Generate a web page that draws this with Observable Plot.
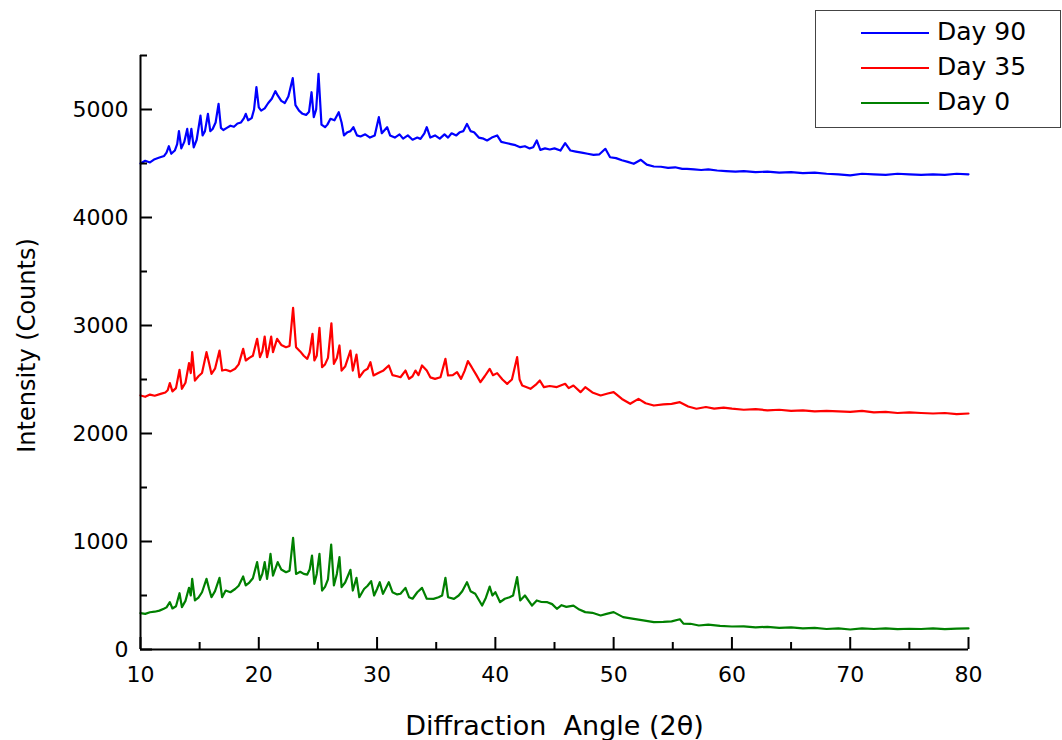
<!DOCTYPE html>
<html>
<head>
<meta charset="utf-8">
<script src="https://cdn.jsdelivr.net/npm/d3@7"></script>
<script src="https://cdn.jsdelivr.net/npm/@observablehq/plot@0.6"></script>
<style>
  body { margin: 0; background: #fff; }
  #wrap { position: relative; width: 1062px; height: 740px; background: #fff; }
  svg text { white-space: pre; }
  #legend { position: absolute; left: 815px; top: 10px; width: 246px; height: 118px;
    border: 1px solid #444; box-sizing: border-box; background: #fff;
    font-family: "DejaVu Sans", sans-serif; }
  .row { position: absolute; left: 0; height: 0; }
  .sw { position: absolute; left: 45px; top: -1px; width: 68px; height: 2px; }
  .lb { position: absolute; left: 121px; top: -16px; font-size: 25px; line-height: 30px; color: #000; white-space: nowrap; }
</style>
</head>
<body>
<div id="wrap"></div>
<script>
// ---- Data ----
const seriesNames = ["Day 90", "Day 35", "Day 0"];
const seriesColors = ["#0000ff", "#ff0000", "#008000"];

const day90X = [10.0,10.4,10.8,11.2,11.6,12.0,12.2,12.4,12.6,12.9,13.1,13.25,13.45,13.7,13.95,14.1,14.3,14.5,14.75,15.07,15.25,15.45,15.7,15.9,16.1,16.35,16.6,16.8,17.0,17.3,17.6,17.9,18.2,18.5,18.75,18.9,19.1,19.4,19.6,19.8,20.0,20.2,20.5,20.8,21.1,21.4,21.6,21.9,22.2,22.5,22.87,23.1,23.4,23.7,24.0,24.25,24.46,24.65,24.85,25.05,25.3,25.6,25.8,26.06,26.4,26.76,27.0,27.2,27.5,27.75,28.0,28.3,28.6,29.0,29.4,29.8,30.15,30.4,30.85,31.1,31.5,31.9,32.2,32.6,33.0,33.4,33.67,34.0,34.2,34.5,34.9,35.3,35.7,36.0,36.3,36.7,37.0,37.3,37.6,37.9,38.2,38.6,39.0,39.3,39.7,40.15,40.5,40.9,41.3,41.7,42.1,42.5,42.9,43.2,43.5,43.8,44.2,44.6,45.0,45.5,45.9,46.35,46.8,47.3,47.8,48.3,48.8,49.3,49.7,50.2,50.7,51.2,51.7,52.3,52.8,53.4,54.0,54.6,55.2,55.8,56.2,56.8,57.4,58.0,58.75,59.5,60.3,61.0,62.0,63.0,64.0,65.0,66.0,67.0,68.0,69.0,70.0,71.0,72.0,73.0,74.0,75.0,76.0,77.0,78.0,79.0,80.0];
const day90Y = [4500,4525,4510,4540,4555,4570,4600,4660,4590,4620,4680,4800,4640,4700,4820,4680,4820,4650,4720,4944,4760,4800,4960,4800,4820,4880,5052,4830,4810,4830,4850,4840,4870,4880,4920,4960,4900,4920,5000,5207,5020,4990,5010,5060,5100,5170,5130,5080,5060,5120,5290,5040,4990,4960,4950,4980,5160,4930,5000,5330,4860,4836,4860,4914,4900,4975,4880,4760,4790,4800,4836,4760,4750,4770,4740,4760,4929,4780,4836,4760,4740,4770,4730,4760,4720,4740,4728,4780,4836,4740,4760,4730,4770,4740,4780,4760,4790,4800,4867,4800,4790,4740,4730,4713,4740,4760,4700,4690,4680,4670,4651,4660,4640,4650,4713,4626,4640,4630,4640,4620,4688,4620,4610,4600,4590,4580,4585,4636,4558,4550,4530,4515,4497,4534,4490,4472,4470,4460,4465,4450,4451,4445,4440,4445,4435,4430,4425,4430,4420,4425,4415,4420,4410,4415,4405,4400,4390,4405,4400,4395,4405,4400,4395,4400,4395,4405,4400];

const day35X = [10.0,10.4,10.8,11.2,11.7,12.1,12.3,12.48,12.7,13.0,13.3,13.5,13.8,14.1,14.25,14.37,14.6,14.9,15.2,15.58,15.8,16.0,16.3,16.68,16.9,17.2,17.6,18.0,18.3,18.68,18.9,19.2,19.5,19.86,20.1,20.3,20.5,20.7,20.85,21.05,21.2,21.55,21.9,22.3,22.6,22.9,23.15,23.5,23.8,24.1,24.3,24.54,24.7,24.9,25.13,25.35,25.6,25.85,26.14,26.35,26.6,26.82,27.0,27.3,27.75,27.95,28.26,28.5,28.9,29.2,29.44,29.7,30.1,30.5,30.99,31.3,31.7,31.98,32.4,32.7,33.0,33.25,33.5,33.8,34.2,34.5,34.9,35.36,35.78,36.0,36.4,36.76,37.1,37.4,37.68,38.0,38.4,38.74,39.1,39.52,39.8,40.15,40.6,41.0,41.4,41.84,42.05,42.27,42.6,42.97,43.4,43.76,44.1,44.6,45.2,45.9,46.2,46.6,47.2,47.6,48.2,48.9,49.5,50.0,50.7,51.4,52.1,52.7,53.4,54.2,54.9,55.6,56.3,57.0,57.8,58.5,59.3,60.0,61.0,62.0,63.0,64.0,65.0,66.0,67.0,68.0,69.0,70.0,71.0,72.0,73.0,74.0,75.0,76.0,77.0,78.0,79.0,80.0];
const day35Y = [2352,2340,2360,2350,2367,2380,2400,2466,2390,2420,2590,2414,2470,2651,2560,2753,2490,2530,2560,2753,2650,2552,2600,2768,2583,2590,2575,2600,2640,2784,2676,2700,2720,2877,2707,2760,2898,2707,2780,2898,2753,2877,2820,2799,2810,3164,2799,2760,2720,2691,2750,2923,2676,2720,2978,2614,2640,2700,3021,2645,2700,2815,2583,2620,2768,2583,2731,2521,2580,2600,2660,2537,2560,2580,2630,2540,2530,2521,2583,2506,2530,2583,2540,2630,2583,2520,2506,2521,2691,2537,2540,2568,2506,2580,2670,2614,2540,2475,2530,2599,2540,2559,2500,2460,2500,2707,2500,2444,2430,2414,2450,2491,2430,2440,2430,2460,2420,2444,2383,2429,2380,2352,2370,2383,2320,2275,2321,2280,2259,2270,2275,2290,2250,2229,2245,2230,2240,2230,2220,2225,2215,2220,2210,2215,2205,2210,2205,2200,2210,2195,2200,2190,2195,2190,2185,2190,2180,2185];

const day0X = [10.0,10.4,10.8,11.2,11.6,11.97,12.2,12.48,12.7,13.0,13.3,13.5,13.8,14.1,14.25,14.37,14.6,14.9,15.2,15.58,15.8,16.0,16.3,16.68,16.9,17.2,17.6,18.0,18.3,18.68,18.9,19.2,19.5,19.86,20.1,20.3,20.5,20.7,20.85,20.99,21.2,21.6,21.9,22.3,22.6,22.9,23.15,23.5,23.8,24.1,24.3,24.5,24.7,24.9,25.13,25.35,25.6,25.85,26.12,26.35,26.6,26.82,27.0,27.3,27.75,27.95,28.26,28.5,28.9,29.2,29.5,29.75,30.0,30.23,30.5,30.99,31.3,31.7,31.98,32.4,32.7,33.0,33.4,33.8,34.2,34.77,35.2,35.5,35.78,36.0,36.5,36.9,37.2,37.6,37.9,38.3,38.88,39.2,39.52,39.75,40.0,40.4,40.8,41.2,41.5,41.84,42.1,42.5,43.1,43.5,43.9,44.4,44.8,45.2,45.6,46.0,46.6,47.1,47.6,48.2,48.9,49.4,50.0,50.8,51.7,52.5,53.4,54.2,54.9,55.6,55.9,56.5,57.2,58.0,59.0,60.0,61.0,62.0,63.0,64.0,65.0,66.0,67.0,68.0,69.0,70.0,71.0,72.0,73.0,74.0,75.0,76.0,77.0,78.0,79.0,80.0];
const day0Y = [336,330,345,350,360,377,390,438,380,400,521,392,450,571,500,654,454,480,530,654,560,484,540,664,484,546,530,560,590,676,593,620,660,809,645,700,809,654,760,886,685,809,740,716,730,1034,700,720,700,694,740,870,608,700,886,546,580,650,972,593,700,855,577,620,738,546,664,484,560,590,633,500,560,623,515,623,531,510,516,571,484,470,530,571,470,469,484,500,664,484,469,500,540,623,540,516,407,480,583,500,531,438,470,484,500,670,454,500,407,454,440,438,420,377,410,395,407,370,346,340,315,330,346,300,284,270,253,255,260,280,240,238,222,230,218,213,215,205,210,200,205,195,200,190,195,185,195,190,195,188,192,190,195,188,193,195];

const xMajor = [10, 20, 30, 40, 50, 60, 70, 80];
const xMinor = [15, 25, 35, 45, 55, 65, 75];
const yMajor = [0, 1000, 2000, 3000, 4000, 5000];
const yMinor = [500, 1500, 2500, 3500, 4500, 5500];
const xDomain = [10, 80];
const yDomain = [0, 5500];
const xTitle = "Diffraction  Angle (2\u03b8)";
const yTitle = "Intensity (Counts)";

// ---- Build table ----
const xs = [day90X, day35X, day0X];
const ys = [day90Y, day35Y, day0Y];
const rows = [];
seriesNames.forEach((s, k) => {
  xs[k].forEach((x, i) => rows.push({series: s, x, v: ys[k][i]}));
});

const W = 1062, H = 740, mL = 140, mR = 94, mT = 55, mB = 91;
const frameW = W - mL - mR, frameH = H - mT - mB;
const majorLen = 12, minorLen = 7;
const font = "DejaVu Sans";

const chart = Plot.plot({
  width: W,
  height: H,
  marginLeft: mL,
  marginRight: mR,
  marginTop: mT,
  marginBottom: mB,
  x: {domain: xDomain},
  y: {domain: yDomain},
  color: {domain: seriesNames, range: seriesColors},
  style: {fontFamily: font, background: "#fff", color: "#000", overflow: "visible"},
  marks: [
    Plot.lineY(rows, {x: "x", y: "v", z: "series", stroke: "series", strokeWidth: 2.2, strokeLinejoin: "round"}),
    Plot.ruleY(yDomain.slice(0, 1), {stroke: "#000", strokeWidth: 2}),
    Plot.ruleX(xDomain.slice(0, 1), {stroke: "#000", strokeWidth: 2}),
    // inward ticks
    Plot.tickX(xMajor, {x: d => d, insetTop: frameH - majorLen, stroke: "#000", strokeWidth: 2}),
    Plot.tickX(xMinor, {x: d => d, insetTop: frameH - minorLen, stroke: "#000", strokeWidth: 2}),
    Plot.tickY(yMajor, {y: d => d, insetRight: frameW - majorLen, stroke: "#000", strokeWidth: 2}),
    Plot.tickY(yMinor, {y: d => d, insetRight: frameW - minorLen, stroke: "#000", strokeWidth: 2}),
    // tick labels
    Plot.axisX({ticks: xMajor, tickSize: 0, tickPadding: 17, fontSize: 22, label: null, tickFormat: d => String(d)}),
    Plot.axisY({ticks: yMajor, tickSize: 0, tickPadding: 12, fontSize: 22, label: null, tickFormat: d => String(d)}),
    // axis titles
    Plot.text([xTitle], {text: d => d, frameAnchor: "bottom", dy: 77, lineAnchor: "middle", textAnchor: "middle", fontSize: 27, fill: "#000"}),
    Plot.text([yTitle], {text: d => d, frameAnchor: "left", rotate: -90, dx: -113, dy: -7, lineAnchor: "middle", textAnchor: "middle", fontSize: 24, fill: "#000"})
  ]
});

const wrap = document.getElementById("wrap");
wrap.appendChild(chart);

// legend
const legend = document.createElement("div");
legend.id = "legend";
const rowTops = [22, 57, 92];
seriesNames.forEach((s, k) => {
  const r = document.createElement("div");
  r.className = "row";
  r.style.top = rowTops[k] + "px";
  const sw = document.createElement("div");
  sw.className = "sw";
  sw.style.background = seriesColors[k];
  const lb = document.createElement("div");
  lb.className = "lb";
  lb.textContent = s;
  r.appendChild(sw);
  r.appendChild(lb);
  legend.appendChild(r);
});
wrap.appendChild(legend);
</script>
</body>
</html>
